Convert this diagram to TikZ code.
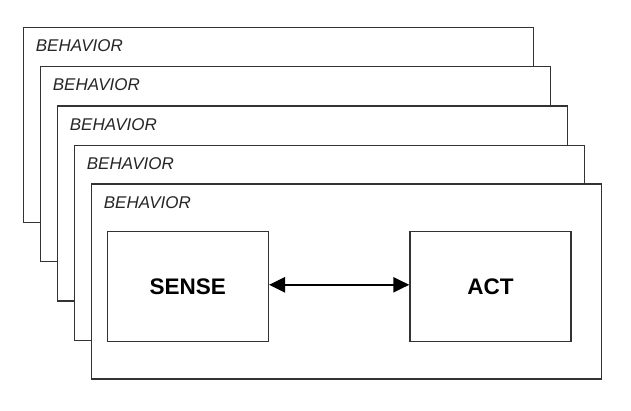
\documentclass[tikz,border=0pt]{standalone}
\usepackage{fontspec}
\setmainfont{Liberation Sans}
\usetikzlibrary{arrows.meta,positioning}

\begin{document}
\begin{tikzpicture}[x=1pt,y=1pt,
		frame/.style={draw=black!80, line width=1.4pt, fill=white, anchor=north west,
			minimum width=510pt, minimum height=195pt, inner sep=0pt},
		tag/.style={anchor=west, inner sep=0pt, text=black!85,
			font=\itshape\fontsize{17}{17}\selectfont},
		part/.style={draw=black!80, line width=1.4pt, minimum width=161pt, minimum height=110pt,
			inner sep=0pt, font=\bfseries\fontsize{22.5}{23}\selectfont}]
			\useasboundingbox (0,0) rectangle (631,-410);
			% stacked behaviors, back to front
			\node[frame] (b1) at (22.7,-26.7) {};
			\node[tag] (t1) at ([shift={(13,-19)}]b1.north west) {BEHAVIOR};
			\node[frame] (b2) at (39.7,-66) {};
			\node[tag] (t2) at ([shift={(13,-19)}]b2.north west) {BEHAVIOR};
			\node[frame] (b3) at (56.7,-105.3) {};
			\node[tag] (t3) at ([shift={(13,-19)}]b3.north west) {BEHAVIOR};
			\node[frame] (b4) at (73.7,-144.6) {};
			\node[tag] (t4) at ([shift={(13,-19)}]b4.north west) {BEHAVIOR};
			\node[frame] (b5) at (90.7,-183.3) {};
			\node[tag] (t5) at ([shift={(13,-19)}]b5.north west) {BEHAVIOR};
			% front behavior
			\node[part] (sense) at (187.8,-286.3) {SENSE};
			\node[part] (act) at (490.5,-286.3) {ACT};
			\draw[{Triangle[length=16pt,width=15pt]}-{Triangle[length=16pt,width=15pt]}, line width=2.3pt]
				([yshift=1.5pt]sense.east) -- ([yshift=1.5pt]act.west);
\end{tikzpicture}
\end{document}
